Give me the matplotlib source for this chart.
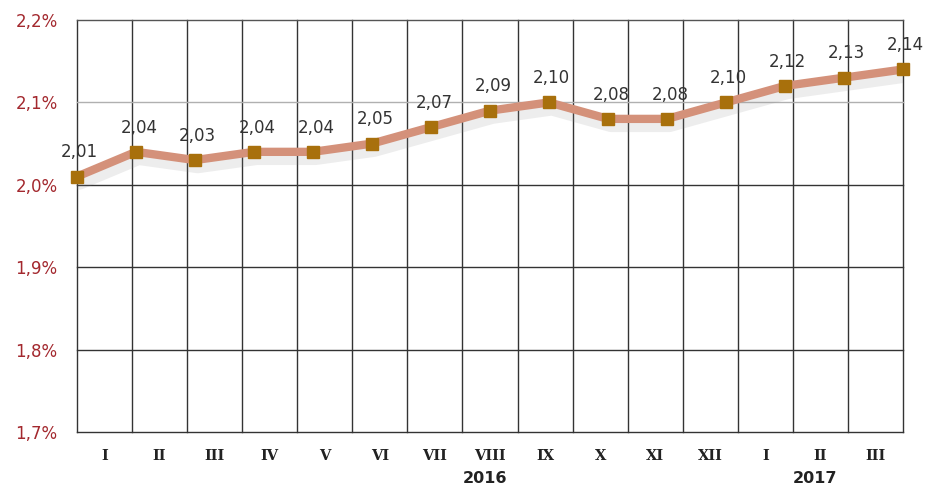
import matplotlib.pyplot as plt
import matplotlib.patheffects as pe
import numpy as np

months = ['I', 'II', 'III', 'IV', 'V', 'VI', 'VII', 'VIII', 'IX', 'X', 'XI', 'XII', 'I', 'II', 'III']
values = [2.01, 2.04, 2.03, 2.04, 2.04, 2.05, 2.07, 2.09, 2.10, 2.08, 2.08, 2.10, 2.12, 2.13, 2.14]
years = ['2016', '2017']
year_pos = [7, 13]  # month index under which the year is written
yticks = [1.7, 1.8, 1.9, 2.0, 2.1, 2.2]

n = len(values)
span = n - 1
cell = span / len(months)

fig = plt.figure(figsize=(9.34, 4.87), dpi=100)
ax = fig.add_axes([77/934, 1 - 432/487, 826/934, 412/487])

x = np.arange(n)
ax.plot(x, values, color='#d4917a', lw=6, solid_capstyle='round', zorder=3,
        path_effects=[pe.SimpleLineShadow(offset=(2, -5), shadow_color='#888888', alpha=0.15, linewidth=9),
                      pe.Normal()])
ax.plot(x, values, ls='none', marker='s', ms=8, color='#a8700c', zorder=4, clip_on=False)
for xi, v in zip(x, values):
    ax.annotate(f'{v:.2f}'.replace('.', ','), (xi, v), xytext=(2, 11), textcoords='offset points',
                ha='center', va='bottom', fontsize=12, color='#333333', zorder=5)

ax.set_xlim(0, span)
ax.set_ylim(1.7, 2.2)

# vertical grid at category borders
for k in range(len(months) + 1):
    ax.axvline(k * cell, color='#333333', lw=1, zorder=1, clip_on=False)
for y in yticks:
    c = '#b0b0b0' if abs(y - 2.1) < 1e-9 else '#333333'
    if abs(y - 2.2) < 1e-9:
        c = '#555555'
    ax.axhline(y, color=c, lw=1, zorder=1, clip_on=False)

for s in ax.spines.values():
    s.set_visible(False)

ax.set_yticks(yticks)
ax.set_yticklabels([f'{y:.1f}'.replace('.', ',') + '%' for y in yticks],
                   color='#a3282e', fontsize=12)
ax.tick_params(axis='y', length=0, pad=14)

centers = [(k + 0.5) * cell for k in range(len(months))]
ax.set_xticks(centers)
ax.set_xticklabels(months, fontsize=10.5, fontweight='bold', family='DejaVu Serif', color='#222222')
ax.tick_params(axis='x', length=0, pad=12)

for yr, p in zip(years, year_pos):
    ax.text(centers[p] - 5 * cell / 55, -0.112, yr, transform=ax.get_xaxis_transform(),
            ha='center', va='center', fontsize=11.5, fontweight='bold', color='#222222')

fig.savefig('out.png', dpi=100)
